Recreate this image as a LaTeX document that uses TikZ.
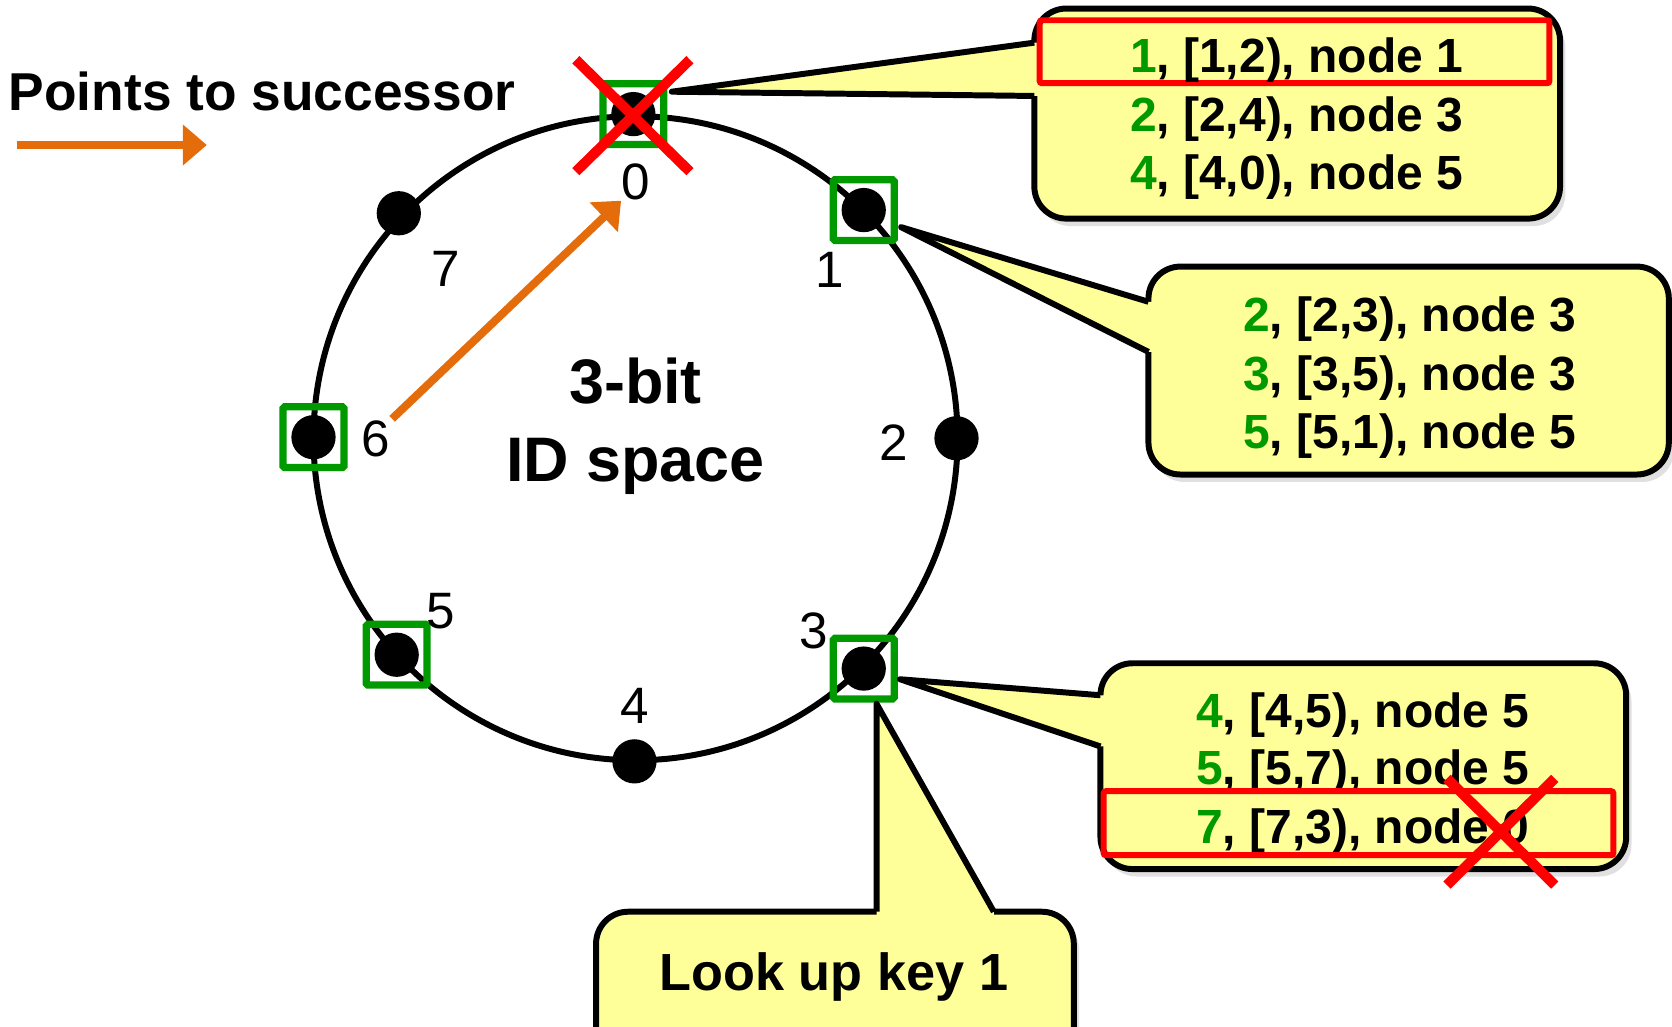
\documentclass[tikz,border=0pt]{standalone}
\usepackage{fontspec}
\setmainfont{Liberation Sans}
\usetikzlibrary{arrows.meta}
\definecolor{ringgreen}{RGB}{0,153,0}
\definecolor{succorange}{RGB}{228,108,10}
\definecolor{notefill}{RGB}{255,255,153}
\definecolor{alertred}{RGB}{255,0,0}

\begin{document}
\begin{tikzpicture}[x=1pt,y=-1pt,
  dot/.style={circle,fill=black,inner sep=0pt,minimum size=41.5pt},
  holder/.style={draw=ringgreen,line width=6.8pt,minimum size=57pt,inner sep=0pt,rounded corners=1.5pt},
  idlabel/.style={inner sep=0pt,font=\fontsize{48}{50}\selectfont},
  entry/.style={anchor=base,inner sep=0pt,font=\bfseries\fontsize{45}{50}\selectfont},
  note/.style={fill=notefill,draw=black,line width=5.6pt,rounded corners=30pt},
  noteshadow/.style={fill=black,opacity=0.12,rounded corners=30pt},
  finger/.style={draw=black,line width=5.6pt,line join=round},
  succ/.style={draw=succorange,line width=7.5pt,-{Triangle[length=22.5pt,width=37pt]}},
  cross/.style={draw=alertred,line width=9.5pt},
  hilite/.style={draw=alertred,line width=5.6pt,rounded corners=2pt}
]
\useasboundingbox (0,0) rectangle (1568,963);

% legend
\node[anchor=base west,inner sep=0pt,font=\bfseries\fontsize{50}{55}\selectfont]
  (legend) at (8,104) {Points to successor};
\coordinate (la) at (16,136);
\coordinate (lb) at (194,136);
\draw[succ] (la) -- (lb);

% identifier ring
\node[circle,draw,line width=5.6pt,minimum size=604pt,inner sep=0pt] (ring) at (596,411) {};

\node[dot] (n0) at (594,107) {};
\node[dot] (n1) at (810,197) {};
\node[dot] (n2) at (897,411) {};
\node[dot] (n3) at (810,627) {};
\node[dot] (n4) at (595,714) {};
\node[dot] (n5) at (372,614) {};
\node[dot] (n6) at (294,410) {};
\node[dot] (n7) at (374,200) {};

% live nodes
\node[holder] (h0) at (n0) {};
\node[holder] (h1) at (n1) {};
\node[holder] (h3) at (n3) {};
\node[holder] (h5) at (n5) {};
\node[holder] (h6) at (n6) {};

% identifiers
\node[idlabel] (l0) at (596,171) {0};
\node[idlabel] (l1) at (778,253) {1};
\node[idlabel] (l2) at (838,415) {2};
\node[idlabel] (l3) at (763,592) {3};
\node[idlabel] (l4) at (595,662) {4};
\node[idlabel] (l5) at (413,573) {5};
\node[idlabel] (l6) at (352,412) {6};
\node[idlabel] (l7) at (418,252) {7};

\draw[succ,shorten <=3pt] (l6.north east) -- (l0.south west);

\node[anchor=base,inner sep=0pt,font=\bfseries\fontsize{59}{60}\selectfont] (bits) at (596,378) {3-bit};
\node[anchor=base,inner sep=0pt,font=\bfseries\fontsize{59}{60}\selectfont] (space) at (596,452) {ID space};

% finger table of node 0
\fill[noteshadow] (974,15) rectangle (1468,212);
\draw[note] (970,8) rectangle (1463,205);
\coordinate (t0) at (630,86);
\coordinate (t0a) at (970,40);
\coordinate (t0b) at (970,90);
\fill[notefill] (t0) -- (t0a) -- ([xshift=8pt]t0a) -- ([xshift=8pt]t0b) -- (t0b) -- cycle;
\draw[finger] (t0a) -- (t0) -- (t0b);
\draw[hilite] (975,19) rectangle (1453,78);
\node[entry] (e01) at (1216,68) {\textcolor{ringgreen}{1}, [1,2), node 1};
\node[entry] (e02) at (1216,123) {\textcolor{ringgreen}{2}, [2,4), node 3};
\node[entry] (e04) at (1216,178) {\textcolor{ringgreen}{4}, [4,0), node 5};

% finger table of node 1
\fill[noteshadow] (1081,256) rectangle (1570,452);
\draw[note] (1077,250) rectangle (1565,445);
\coordinate (t1) at (845,213);
\coordinate (t1a) at (1077,283);
\coordinate (t1b) at (1077,330);
\fill[notefill] (t1) -- (t1a) -- ([xshift=8pt]t1a) -- ([xshift=8pt]t1b) -- (t1b) -- cycle;
\draw[finger] (t1a) -- (t1) -- (t1b);
\node[entry] (e12) at (1322,311) {\textcolor{ringgreen}{2}, [2,3), node 3};
\node[entry] (e13) at (1322,366) {\textcolor{ringgreen}{3}, [3,5), node 3};
\node[entry] (e15) at (1322,421) {\textcolor{ringgreen}{5}, [5,1), node 5};

% finger table of node 3
\fill[noteshadow] (1036,628) rectangle (1530,822);
\draw[note] (1032,622) rectangle (1525,815);
\coordinate (t3) at (844,637);
\coordinate (t3a) at (1032,652);
\coordinate (t3b) at (1032,700);
\fill[notefill] (t3) -- (t3a) -- ([xshift=8pt]t3a) -- ([xshift=8pt]t3b) -- (t3b) -- cycle;
\draw[finger] (t3a) -- (t3) -- (t3b);
\node[entry] (e34) at (1278,682) {\textcolor{ringgreen}{4}, [4,5), node 5};
\node[entry] (e35) at (1278,736) {\textcolor{ringgreen}{5}, [5,7), node 5};
\node[entry] (e37) at (1278,791) {\textcolor{ringgreen}{7}, [7,3), node 0};
\draw[hilite] (1035,742) rectangle (1513,802);
\draw[cross] (1357,730) -- (1458,830);
\draw[cross] (1458,730) -- (1357,830);

% lookup request
\fill[noteshadow] (563,861) rectangle (1012,1010);
\draw[note] (559,855) rectangle (1007,1000);
\coordinate (tq) at (822,660);
\coordinate (tqa) at (822,855);
\coordinate (tqb) at (932,855);
\fill[notefill] (tq) -- (tqa) -- ([yshift=-8pt]tqa) -- ([yshift=-8pt]tqb) -- (tqb) -- cycle;
\draw[finger] (tqa) -- (tq) -- (tqb);
\node[anchor=base,inner sep=0pt,font=\bfseries\fontsize{49}{55}\selectfont] (query) at (782,929) {Look up key 1};

% failed node 0
\draw[cross] (540,56) -- (647,161);
\draw[cross] (647,56) -- (540,161);
\end{tikzpicture}
\end{document}
